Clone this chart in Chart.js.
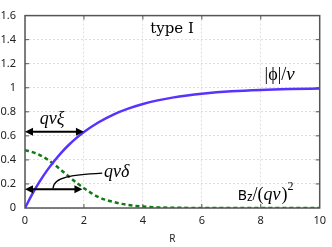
<!DOCTYPE html>
<html>
<head>
<meta charset="UTF-8" />
<title>type I</title>
<script src="https://cdn.jsdelivr.net/npm/chart.js@4.4.1/dist/chart.umd.min.js"></script>
<style>
  html, body { margin: 0; padding: 0; background: #fff; }
  #wrap { width: 332px; height: 247px; position: relative; }
</style>
</head>
<body>
<div id="wrap"><canvas id="chart"></canvas></div>
<script>
// R samples and the two profiles
const rValues   = [0, 0.25, 0.5, 0.75, 1, 1.25, 1.5, 1.75, 2, 2.5, 3, 3.5, 4, 4.5, 5, 5.5, 6, 7, 8, 9, 10];
const phiValues = [0, 0.118, 0.221, 0.313, 0.393, 0.465, 0.528, 0.583, 0.632, 0.713, 0.777, 0.826, 0.865, 0.895, 0.918, 0.936, 0.950, 0.970, 0.982, 0.989, 0.993];
const bzValues  = [0.48, 0.465, 0.44, 0.405, 0.36, 0.31, 0.26, 0.21, 0.165, 0.09, 0.05, 0.025, 0.012, 0.005, 0.002, 0.001, 0, 0, 0, 0, 0];

const xTicks = [0, 2, 4, 6, 8, 10];
const yTicks = [0, 0.2, 0.4, 0.6, 0.8, 1, 1.2, 1.4, 1.6];

// length arrows (R from, R to, value)
const xiArrow    = [0, 2, 0.635];
const deltaArrow = [0, 1.95, 0.155];

const SERIF = '"DejaVu Serif", "Liberation Serif", serif';
const TIMES = '"Liberation Serif", serif';
const SANS = '"Noto Sans", "Open Sans", sans-serif';

function pts(ys) { return rValues.map((r, i) => ({ x: r, y: ys[i] })); }

function pieces(ctx, x, y, list) {
  let cx = x;
  list.forEach(p => {
    ctx.font = p.font;
    ctx.fillText(p.t, cx, y + (p.dy || 0));
    cx += ctx.measureText(p.t).width + (p.gap || 0);
  });
}

function arrow(ctx, xs, ys, v) {
  const x1 = xs.getPixelForValue(v[0]), x2 = xs.getPixelForValue(v[1]);
  const y = ys.getPixelForValue(v[2]);
  ctx.strokeStyle = '#000';
  ctx.fillStyle = '#000';
  ctx.lineWidth = 2;
  ctx.beginPath();
  ctx.moveTo(x1 + 4, y);
  ctx.lineTo(x2 - 4, y);
  ctx.stroke();
  const head = (tip, dir) => {
    ctx.beginPath();
    ctx.moveTo(tip, y);
    ctx.lineTo(tip + dir * 8, y - 4);
    ctx.lineTo(tip + dir * 8, y + 4);
    ctx.closePath();
    ctx.fill();
  };
  head(x1, 1);
  head(x2, -1);
}

const annot = {
  id: 'annot',
  afterDraw(chart) {
    const { ctx, chartArea: a } = chart;
    const xs = chart.scales.x, ys = chart.scales.y;
    ctx.save();

    // frame + inner ticks
    ctx.strokeStyle = '#555';
    ctx.lineWidth = 1.5;
    ctx.strokeRect(a.left, a.top, a.right - a.left, a.bottom - a.top);
    ctx.lineWidth = 1;
    ctx.beginPath();
    xTicks.slice(1, -1).forEach(t => {
      const px = xs.getPixelForValue(t);
      ctx.moveTo(px, a.top); ctx.lineTo(px, a.top + 4);
      ctx.moveTo(px, a.bottom); ctx.lineTo(px, a.bottom - 4);
    });
    yTicks.slice(1, -1).forEach(t => {
      const py = ys.getPixelForValue(t);
      ctx.moveTo(a.left, py); ctx.lineTo(a.left + 4, py);
      ctx.moveTo(a.right, py); ctx.lineTo(a.right - 4, py);
    });
    ctx.stroke();

    arrow(ctx, xs, ys, xiArrow);
    arrow(ctx, xs, ys, deltaArrow);

    // leader from the delta arrow to its label
    ctx.lineWidth = 1.2;
    ctx.beginPath();
    ctx.moveTo(xs.getPixelForValue(0.95), ys.getPixelForValue(0.16));
    ctx.bezierCurveTo(xs.getPixelForValue(0.95), ys.getPixelForValue(0.26),
                      xs.getPixelForValue(1.6), ys.getPixelForValue(0.275),
                      xs.getPixelForValue(2.62), ys.getPixelForValue(0.29));
    ctx.stroke();

    ctx.fillStyle = '#000';
    ctx.textBaseline = 'alphabetic';
    ctx.textAlign = 'left';
    const P = (r, v) => [xs.getPixelForValue(r), ys.getPixelForValue(v)];

    let [tx, ty] = P(4.25, 1.457);
    pieces(ctx, tx, ty, [{ t: 'type I', font: '15px ' + SERIF }]);

    [tx, ty] = P(8.13, 1.0625);
    pieces(ctx, tx, ty, [
      { t: '|ϕ|/', font: '18px ' + TIMES },
      { t: 'v', font: 'italic 19px ' + TIMES }
    ]);

    [tx, ty] = P(0.5, 0.695);
    pieces(ctx, tx, ty, [{ t: 'qvξ', font: 'italic 18px ' + TIMES }]);

    [tx, ty] = P(2.68, 0.258);
    pieces(ctx, tx, ty, [{ t: 'qvδ', font: 'italic 18px ' + TIMES }]);

    [tx, ty] = P(7.22, 0.07);
    pieces(ctx, tx, ty, [
      { t: 'B', font: '14px ' + SANS },
      { t: 'z', font: '12px ' + SANS, dy: 1 },
      { t: '/(', font: '18px ' + TIMES },
      { t: 'qv', font: 'italic 18px ' + TIMES, gap: 1 },
      { t: ')', font: '18px ' + TIMES },
      { t: '2', font: '12px ' + TIMES, dy: -10 }
    ]);

    ctx.restore();
  }
};

new Chart(document.getElementById('chart'), {
  type: 'line',
  data: {
    datasets: [
      {
        label: '|ϕ|/v',
        data: pts(phiValues),
        borderColor: 'rgb(88, 50, 255)',
        borderWidth: 2.5,
        pointRadius: 0,
        cubicInterpolationMode: 'monotone',
        fill: false
      },
      {
        label: 'Bz/(qv)^2',
        data: pts(bzValues),
        borderColor: 'rgb(20, 120, 20)',
        borderWidth: 2.5,
        borderDash: [4, 3],
        pointRadius: 0,
        cubicInterpolationMode: 'monotone',
        fill: false
      }
    ]
  },
  options: {
    responsive: true,
    maintainAspectRatio: false,
    animation: false,
    layout: { padding: { top: 3, right: 8, left: 0, bottom: 0 } },
    plugins: { legend: { display: false }, tooltip: { enabled: false } },
    scales: {
      x: {
        type: 'linear',
        min: 0, max: 10,
        afterBuildTicks: s => { s.ticks = xTicks.map(v => ({ value: v })); },
        afterFit: s => { s.height = 39; },
        ticks: { padding: 6, color: '#222', font: { family: SANS, size: 11 }, maxRotation: 0,
                 callback: v => String(v) },
        grid: { color: '#dedede', drawTicks: false, lineWidth: 1 },
        border: { display: false, dash: [2, 2] },
        title: { display: true, text: 'R', color: '#222', font: { family: SANS, size: 10 }, padding: { top: 0, bottom: 2 } }
      },
      y: {
        min: 0, max: 1.6,
        afterBuildTicks: s => { s.ticks = yTicks.map(v => ({ value: v })); },
        afterFit: s => { s.width = 25; },
        ticks: { padding: 9, color: '#222', font: { family: SANS, size: 11 },
                 callback: v => String(+v.toFixed(1)) },
        grid: { color: '#dedede', drawTicks: false, lineWidth: 1 },
        border: { display: false, dash: [2, 2] }
      }
    }
  },
  plugins: [annot]
});
</script>
</body>
</html>
